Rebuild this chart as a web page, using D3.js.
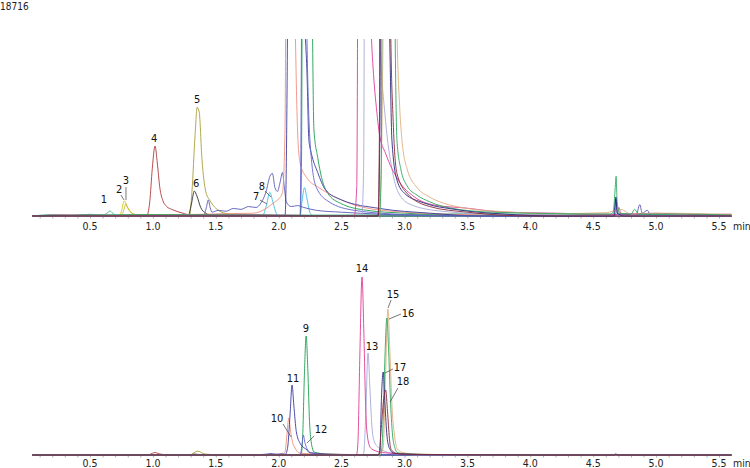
<!DOCTYPE html>
<html>
<head>
<meta charset="utf-8">
<script src="https://cdn.jsdelivr.net/npm/d3@7"></script>
<style>
  body { margin: 0; background: #fff; }
  svg { display: block; }
  text { font-family: "DejaVu Sans Condensed", "DejaVu Sans", sans-serif; }
</style>
</head>
<body>
<div id="chart"></div>
<script>
// retention time (min) and intensity (counts)
var fullScaleTop = 18716;
var fullScaleBottom = 555000;
var tickValues = [0.5, 1.0, 1.5, 2.0, 2.5, 3.0, 3.5, 4.0, 4.5, 5.0, 5.5];

var traceColors = ["#3cb384", "#d4c81e", "#c8bc3c", "#b03c3c", "#a8a03c", "#303030",
  "#3cc0e4", "#5a5ab8", "#1e9e50", "#f0907c", "#3c3ca0", "#6464cc",
  "#a8a8d8", "#e03c96", "#e0b080", "#2ea860", "#2a2a80", "#8a2a3a"];

var trace01 = [[0.04,0],[0.2,150],[0.35,60],[0.5,180],[0.6,90],[0.63,250],[0.66,530],[0.68,300],[0.71,80],[0.9,150],[1.2,60],[1.6,200],[2.0,90],[3.0,150],[3.6,250],[4.2,120],[4.8,220],[5.3,90],[5.6,150]];
var trace02 = [[0.04,0],[0.73,0],[0.75,500],[0.765,1400],[0.775,1600],[0.79,1100],[0.81,600],[0.84,250],[0.9,60],[1.0,0],[5.6,0]];
var trace03 = [[0.04,0],[0.75,0],[0.77,700],[0.785,1300],[0.80,900],[0.83,350],[0.88,80],[0.95,0],[5.6,0]];
var trace04 = [[0.04,0],[0.95,0],[0.975,1500],[0.995,5000],[1.017,7400],[1.035,5600],[1.055,3000],[1.08,1600],[1.11,1000],[1.15,700],[1.2,450],[1.25,250],[1.3,80],[1.4,0],[5.6,0]];
var trace05 = [[0.04,0],[1.29,0],[1.31,2500],[1.335,8500],[1.352,11500],[1.368,11000],[1.39,6000],[1.42,2600],[1.45,1700],[1.48,1100],[1.52,600],[1.6,200],[1.7,0],[5.6,0]];
var trace06 = [[0.04,0],[1.28,0],[1.305,1200],[1.33,2640],[1.35,2100],[1.38,900],[1.42,300],[1.47,50],[1.55,0],[5.6,0]];
var trace07 = [[0.04,0],[1.87,0],[1.9,1000],[1.93,2500],[1.955,1400],[1.98,300],[2.0,0],[2.17,0],[2.185,1500],[2.205,3000],[2.225,1800],[2.25,300],[2.28,0],[5.6,0]];
var trace08 = [[0.04,0],[1.40,0],[1.425,900],[1.44,1700],[1.455,900],[1.47,400],[1.52,600],[1.58,500],[1.64,800],[1.7,700],[1.76,1000],[1.82,900],[1.86,1400],[1.9,2600],[1.93,4200],[1.95,4500],[1.97,3000],[1.99,2600],[2.01,3500],[2.03,4600],[2.045,3000],[2.06,1500],[2.1,1000],[2.15,1100],[2.2,900],[2.3,600],[2.5,400],[2.8,200],[3.0,100],[4.84,0],[4.87,1200],[4.89,300],[4.93,600],[4.96,0],[5.6,0]];
var trace09 = [[0.04,0],[2.17,0],[2.18,4000],[2.19,50000],[2.205,250000],[2.218,357000],[2.232,250000],[2.245,100000],[2.258,40000],[2.27,18000],[2.28,9100],[2.31,6200],[2.34,4100],[2.39,2400],[2.49,1350],[2.7,600],[3.0,300],[3.5,100],[4.0,0],[5.6,0]];
var trace10 = [[0.04,0],[1.8,300],[1.9,800],[1.97,1500],[2.0,1800],[2.03,2500],[2.05,9000],[2.065,60000],[2.08,111000],[2.095,70000],[2.11,38000],[2.13,21000],[2.15,9000],[2.17,5600],[2.22,4100],[2.32,3000],[2.45,2000],[2.66,950],[3.0,400],[3.5,150],[5.6,0]];
var trace11 = [[0.04,0],[2.05,0],[2.07,20000],[2.09,120000],[2.106,210000],[2.12,150000],[2.14,70000],[2.17,35000],[2.2,22000],[2.225,15000],[2.24,8000],[2.26,6600],[2.31,4600],[2.37,2800],[2.5,1700],[2.8,800],[3.2,300],[3.6,0],[4.66,0],[4.68,1800],[4.695,200],[5.6,0]];
var trace12 = [[0.04,0],[2.17,0],[2.185,30000],[2.195,60000],[2.21,35000],[2.23,15000],[2.26,6000],[2.3,3000],[2.4,1500],[2.6,600],[3.0,150],[3.3,0],[5.6,0]];
var trace13 = [[0.04,0],[2.66,0],[2.675,5000],[2.69,100000],[2.71,306000],[2.725,200000],[2.74,90000],[2.76,40000],[2.8,20000],[2.85,10000],[2.9,5000],[2.95,2500],[3.05,1200],[3.3,500],[3.8,150],[5.6,0]];
var trace14 = [[0.04,0],[0.3,120],[0.8,60],[1.5,150],[2.0,100],[2.6,0],[2.62,3000],[2.63,40000],[2.645,300000],[2.662,534000],[2.678,350000],[2.69,160000],[2.70,75000],[2.725,24000],[2.74,18000],[2.75,15700],[2.78,11000],[2.8,8700],[2.85,6600],[2.95,3800],[3.08,2000],[3.24,1150],[3.48,850],[3.8,400],[4.2,300],[4.69,150],[4.705,900],[4.72,200],[5.0,300],[5.3,150],[5.6,200]];
var trace15 = [[0.04,0],[2.8,0],[2.83,20000],[2.85,250000],[2.868,438000],[2.885,300000],[2.9,150000],[2.92,60000],[2.94,20000],[2.96,12000],[2.98,8000],[3.02,5000],[3.1,3000],[3.2,2000],[3.3,1400],[3.5,800],[3.8,450],[4.2,250],[4.6,350],[4.72,700],[4.8,200],[5.1,300],[5.6,150]];
var trace16 = [[0.04,0],[0.4,100],[1.0,150],[2.0,80],[2.8,0],[2.815,5000],[2.83,100000],[2.845,300000],[2.86,411000],[2.875,300000],[2.89,150000],[2.905,60000],[2.925,20000],[2.94,8000],[2.97,5000],[3.02,3200],[3.1,2200],[3.2,1500],[3.36,850],[3.7,400],[4.2,250],[4.64,200],[4.66,500],[4.675,3000],[4.682,4200],[4.69,1500],[4.71,300],[4.8,200],[4.83,700],[4.86,200],[5.2,200],[5.6,100]];
var trace17 = [[0.04,0],[2.79,0],[2.805,10000],[2.815,150000],[2.83,249000],[2.845,150000],[2.86,60000],[2.875,25000],[2.885,17000],[2.9,8000],[2.94,3800],[3.0,2400],[3.15,1400],[3.4,700],[3.8,200],[4.2,0],[4.67,0],[4.68,2000],[4.69,300],[4.75,0],[5.6,0]];
var trace18 = [[0.04,0],[2.79,0],[2.8,8000],[2.815,80000],[2.835,170000],[2.85,195000],[2.865,130000],[2.88,50000],[2.89,20000],[2.91,10000],[2.94,4500],[3.02,2400],[3.2,1000],[3.5,400],[4.0,0],[5.6,0]];

var traces = [trace01, trace02, trace03, trace04, trace05, trace06, trace07, trace08, trace09,
  trace10, trace11, trace12, trace13, trace14, trace15, trace16, trace17, trace18];

// peak labels: text position [t, v] and optional leader [t1, v1, t2, v2]
var topLabels = ["1", "2", "3", "4", "5", "6", "7", "8"];
var topLabelPos = [[0.611,1374],[0.731,2431],[0.786,3382],[1.009,7822],[1.351,11944],[1.343,3065],[1.820,1691],[1.867,2748]];
var topLeaders = [null,[0.746,2220,0.770,1691],[0.786,3065,0.786,1691],null,null,null,[1.851,1691,1.907,1268],[1.891,2643,1.939,2008]];
var bottomLabels = ["9", "10", "11", "12", "13", "14", "15", "16", "17", "18"];
var bottomLabelPos = [[2.217,369000],[1.986,99000],[2.114,219000],[2.336,66000],[2.742,315000],[2.662,549000],[2.909,471000],[3.028,414000],[2.964,252000],[2.988,210000]];
var bottomLeaders = [null,[2.034,93000,2.098,54000],null,[2.281,57000,2.225,36000],null,null,[2.893,465000,2.869,441000],[2.972,423000,2.877,408000],[2.908,258000,2.845,246000],[2.948,201000,2.885,159000]];

var width = 750, height = 468;

var svg = d3.select("#chart")
  .append("svg")
    .attr("width", width)
    .attr("height", height);

var x = d3.scaleLinear()
  .domain([0, 5.6])
  .range([27.1, 731.6]);

var panels = [
  { y: d3.scaleLinear().domain([0, fullScaleTop]).range([216, 39]), base: 216, top: 39, labelY: 230,
    labels: topLabels, labelPos: topLabelPos, leaders: topLeaders },
  { y: d3.scaleLinear().domain([0, fullScaleBottom]).range([455, 270]), base: 455, top: 262, labelY: 466.5,
    labels: bottomLabels, labelPos: bottomLabelPos, leaders: bottomLeaders }
];

// scale maximum of the upper panel
svg.append("text")
  .attr("x", 0)
  .attr("y", 10)
  .style("font-size", "10px")
  .style("fill", "#222")
  .text(fullScaleTop);

panels.forEach(function(p, i) {
  var g = svg.append("g");

  svg.append("clipPath")
    .attr("id", "clip" + i)
    .append("rect")
      .attr("x", x(0.04))
      .attr("y", p.top)
      .attr("width", x(5.6) - x(0.04))
      .attr("height", p.base - p.top + 1.5);

  // axis line
  g.append("line")
    .attr("x1", x(0.04)).attr("x2", x(5.6))
    .attr("y1", p.base + 0.5).attr("y2", p.base + 0.5)
    .style("stroke", "#666")
    .style("stroke-width", 1);

  // minor ticks every 0.1 min
  g.append("g")
    .attr("transform", "translate(0," + (p.base + 0.5) + ")")
    .call(d3.axisBottom(x).tickValues(d3.range(1, 56).map(function(d) { return d / 10; }))
      .tickSize(2).tickFormat(""))
    .call(function(a) { a.select(".domain").remove(); })
    .selectAll("line").style("stroke", "#b0b0b0");

  // tick labels
  g.append("g")
    .selectAll("text")
    .data(tickValues)
    .enter()
    .append("text")
      .attr("x", function(d) { return x(d); })
      .attr("y", p.labelY)
      .attr("text-anchor", "middle")
      .style("font-size", "10.5px")
      .style("fill", "#222")
      .text(function(d) { return d3.format(".1f")(d); });

  g.append("text")
    .attr("x", 733)
    .attr("y", p.labelY)
    .style("font-size", "10.5px")
    .style("fill", "#222")
    .text("min");

  // traces
  var line = d3.line()
    .x(function(d) { return x(d[0]); })
    .y(function(d) { return p.y(d[1]); })
    .curve(d3.curveMonotoneX);

  g.append("g")
    .attr("clip-path", "url(#clip" + i + ")")
    .selectAll("path")
    .data(traces)
    .enter()
    .append("path")
      .attr("d", line)
      .style("fill", "none")
      .style("stroke", function(d, k) { return traceColors[k]; })
      .style("stroke-width", 1)
      .style("opacity", 0.9);

  // leader lines
  g.append("g")
    .selectAll("line")
    .data(p.leaders.filter(function(d) { return d; }))
    .enter()
    .append("line")
      .attr("x1", function(d) { return x(d[0]); })
      .attr("y1", function(d) { return p.y(d[1]); })
      .attr("x2", function(d) { return x(d[2]); })
      .attr("y2", function(d) { return p.y(d[3]); })
      .style("stroke", "#555")
      .style("stroke-width", 0.8);

  // peak numbers
  g.append("g")
    .selectAll("text")
    .data(p.labels)
    .enter()
    .append("text")
      .attr("x", function(d, k) { return x(p.labelPos[k][0]); })
      .attr("y", function(d, k) { return p.y(p.labelPos[k][1]); })
      .attr("text-anchor", "middle")
      .style("font-size", "11px")
      .style("fill", "#111")
      .text(function(d) { return d; });
});
</script>
</body>
</html>
